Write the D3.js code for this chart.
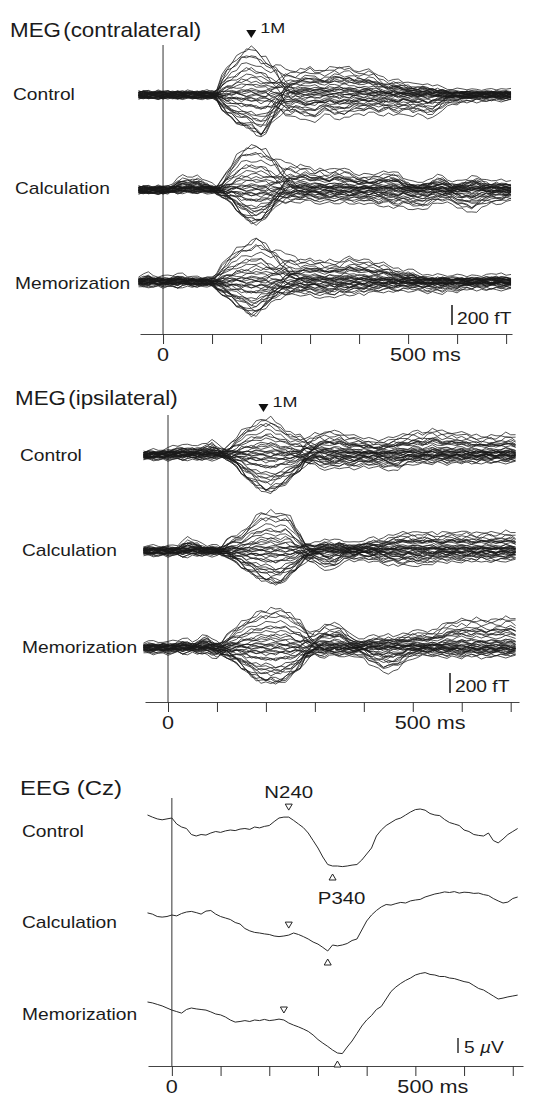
<!DOCTYPE html>
<html>
<head>
<meta charset="utf-8">
<script src="https://cdn.jsdelivr.net/npm/d3@7"></script>
<style>
  body { margin: 0; background: #fff; }
  svg text { font-family: "Liberation Sans", Arial, Helvetica, sans-serif; fill: #1b1b1b; }
</style>
</head>
<body>
<svg id="fig"></svg>
<script>

//// DATA ////

// sample grid of the averaged responses (ms)
var times = d3.range(-50, 711, 10);
// window of the 1M response (ms)
var peakTimes = d3.range(100, 391, 10);

var conditions = ["Control", "Calculation", "Memorization"];
var peak1M = [180, 195];            // latency of the 1M marker, contra / ipsi
var tickTimes = [0, 100, 200, 300, 400, 500, 600, 700];
var tickLabels = ["0", "", "", "", "", "500 ms", "", ""];

// MEG 1M envelope (fT), upward / downward extent, over peakTimes
var contraCtrlUp1M = [0,40,180,270,330,380,440,480,490,450, 410,370,320,270,200,120,50,0,0,0, 0,0,0,0,0,0,0,0,0,0];
var contraCtrlDn1M = [0,40,130,190,230,270,300,320,340,380, 420,370,280,200,120,60,20,0,0,0, 0,0,0,0,0,0,0,0,0,0];
var contraCalcUp1M = [0,20,80,170,250,340,400,440,450,440, 430,400,350,290,220,140,70,20,0,0, 0,0,0,0,0,0,0,0,0,0];
var contraCalcDn1M = [0,20,50,90,130,190,250,290,320,330, 310,270,210,130,70,30,10,0,0,0, 0,0,0,0,0,0,0,0,0,0];
var contraMemUp1M  = [30,80,160,220,280,330,360,390,410,440, 430,380,330,280,220,160,100,50,20,0, 0,0,0,0,0,0,0,0,0,0];
var contraMemDn1M  = [20,70,110,150,190,230,260,300,330,320, 280,240,190,140,110,80,50,30,10,0, 0,0,0,0,0,0,0,0,0,0];
var ipsiCtrlUp1M = [0,20,50,110,170,230,270,300,330,350, 370,370,330,290,250,220,200,180,150,120, 80,40,10,0,0,0,0,0,0,0];
var ipsiCtrlDn1M = [0,10,30,70,110,170,230,270,310,340, 370,370,340,310,280,240,190,140,80,40, 10,0,0,0,0,0,0,0,0,0];
var ipsiCalcUp1M = [0,30,90,130,150,170,220,290,350,380, 390,400,380,370,390,350,240,140,60,20, 0,0,0,0,0,0,0,0,0,0];
var ipsiCalcDn1M = [0,20,40,80,110,150,190,220,250,280, 300,310,330,320,280,240,200,140,80,40, 10,0,0,0,0,0,0,0,0,0];
var ipsiMemUp1M  = [20,60,110,160,210,250,280,320,350,370, 380,390,400,390,380,350,300,260,200,110, 40,0,0,0,0,0,0,0,0,0];
var ipsiMemDn1M  = [20,50,80,120,150,190,230,280,310,330, 340,340,350,340,320,290,240,190,110,60, 20,0,0,0,0,0,0,0,0,0];

// MEG envelope of the remaining activity (fT), over times
var contraCtrlUpRest = [0,0,0,0,0,
  0,0,0,0,0,0,0,0,0,0,
  0,0,0,0,0,0,0,0,0,0,
  0,0,30,80,130,180,210,230,240,250,
  270,250,230,240,260,270,280,270,260,240,
  240,230,240,220,180,150,130,140,130,120,
  100,80,90,90,80,70,60,50,40,30,
  30,30,30,20,30,30,20,30,30,20,
  30,30];
var contraCtrlDnRest = [0,0,0,0,0,
  0,0,0,0,0,0,0,0,0,0,
  0,0,0,0,0,0,0,0,0,0,
  0,0,30,70,120,170,200,190,200,220,
  250,240,190,170,180,200,220,210,180,160,
  170,160,150,160,170,170,160,170,180,170,
  160,180,170,180,200,210,160,110,90,70,
  60,50,50,40,40,40,30,30,30,30,
  30,30];
var contraCalcUpRest = [0,0,0,0,0,
  0,0,40,100,120,120,110,120,100,60,
  30,0,0,0,0,0,0,0,0,0,
  0,0,30,70,120,180,220,220,230,230,
  210,190,200,190,180,200,210,200,170,150,
  140,140,130,140,150,160,170,170,150,110,
  70,50,50,60,70,100,120,120,90,60,
  60,70,90,110,120,100,70,60,80,70,
  60,60];
var contraCalcDnRest = [0,0,0,0,0,
  0,0,0,0,0,0,0,0,0,0,
  0,0,0,0,0,0,0,0,0,0,
  0,0,30,60,90,100,100,100,90,80,
  90,100,100,110,100,100,110,100,100,110,
  110,100,110,120,130,130,140,150,150,140,
  150,160,170,170,150,120,100,90,100,120,
  140,170,190,200,180,150,120,110,120,100,
  90,90];
var contraMemUpRest = [30,50,60,40,30,
  30,30,40,60,50,30,30,20,20,10,
  0,0,0,0,0,0,0,0,0,0,
  0,20,50,90,130,170,200,210,200,210,
  220,210,200,190,200,190,200,220,230,220,
  220,210,200,180,170,170,160,120,110,100,
  100,90,70,50,40,40,40,40,40,40,
  40,40,30,30,40,40,40,50,60,50,
  40,40];
var contraMemDnRest = [20,30,20,20,20,
  20,20,30,30,20,20,20,20,20,10,
  0,0,0,0,0,0,0,0,0,0,
  0,20,40,60,80,90,100,100,100,110,
  110,120,120,130,130,120,110,110,100,100,
  90,90,80,80,70,70,70,70,70,60,
  60,60,60,70,80,80,80,80,70,70,
  70,60,50,50,50,50,50,50,50,50,
  50,50];
var ipsiCtrlUpRest = [0,10,20,20,30,
  40,60,70,80,70,80,70,80,110,130,
  80,50,20,0,0,0,0,0,0,0,
  0,0,0,0,0,0,0,0,60,100,
  160,200,210,230,220,220,200,180,170,170,
  160,150,130,130,140,150,170,180,190,210,
  220,220,210,230,250,240,220,210,220,220,
  210,200,190,180,170,180,180,170,190,200,
  190,180];
var ipsiCtrlDnRest = [20,20,20,20,20,
  20,20,20,20,20,20,20,20,20,20,
  10,0,0,0,0,0,0,0,0,0,
  0,0,0,0,0,0,0,0,30,60,
  80,100,110,120,110,100,100,110,110,100,
  90,90,100,100,110,120,130,120,90,70,
  60,60,60,60,60,50,50,60,60,50,
  50,50,60,60,50,50,50,50,50,50,
  50,50];
var ipsiCalcUpRest = [20,20,20,20,20,
  20,20,30,80,110,100,80,40,30,30,
  20,0,0,0,0,0,0,0,0,0,
  0,0,0,0,0,0,0,30,40,50,
  60,80,90,90,80,90,80,60,50,70,
  90,100,110,100,110,130,150,160,170,180,
  170,160,170,180,170,150,160,170,180,180,
  170,180,170,160,170,180,170,160,170,180,
  170,160];
var ipsiCalcDnRest = [20,20,20,20,20,
  20,20,20,30,30,20,20,20,20,20,
  10,0,0,0,0,0,0,0,0,0,
  0,0,0,0,0,0,0,0,40,80,
  110,130,150,170,160,110,80,70,70,60,
  70,70,80,90,100,110,110,120,120,120,
  110,120,120,110,100,90,80,80,80,90,
  80,80,80,80,70,80,80,80,80,70,
  70,70];
var ipsiMemUpRest = [30,40,30,30,40,
  30,40,50,70,60,40,60,100,120,60,
  30,0,0,0,0,0,0,0,0,0,
  0,0,0,0,0,0,0,0,40,80,
  140,190,220,230,230,220,190,130,80,70,
  80,90,100,100,100,110,100,110,120,140,
  150,150,160,150,160,180,210,240,260,270,
  280,270,280,290,280,270,270,280,290,300,
  290,280];
var ipsiMemDnRest = [20,30,30,20,30,
  30,30,20,30,30,20,30,30,40,60,
  70,30,0,0,0,0,0,0,0,0,
  0,0,0,0,0,0,0,0,40,50,
  50,60,60,50,50,50,60,60,50,60,
  80,120,160,190,210,220,210,180,140,100,
  70,60,50,50,50,60,60,60,60,70,
  70,60,60,60,70,70,60,60,60,60,
  60,60];

// per-channel loadings of the 1M and of the remaining activity
var earlyLoad = [1.0, 0.92, 0.83, 0.74, 0.65, 0.57, 0.49, 0.42, 0.35, 0.29, 0.23, 0.18, 0.13, 0.09, 0.05, 0.02,
  -0.01, -0.04, -0.07, -0.11, -0.15, -0.2, -0.26, -0.32, -0.39, -0.46, -0.53, -0.6, -0.67, -0.74, -0.8,
  -0.86, -0.91, -0.95, -0.98, -1.0];
var lateLoad = [0.3, -0.5, 1.0, -0.2, 0.7, 0.1, -0.9, 0.5, -0.1, 0.85, -0.35, 0.2, -0.7, 0.6, -0.05, 0.4,
  -1.0, 0.15, -0.6, 0.9, -0.25, 0.05, -0.8, 0.45, -0.45, 0.75, -0.15, 0.25, -0.3, 0.55, -0.75, 0.35,
  -0.4, 0.65, 0.0, -0.55];
// per-channel baseline offset and noise size (fT)
var channelOffset = [-30, 25, -10, 35, 5, -20, 15, -35, 30, 0, -15, 20, -25, 10, -5, 28, -28, 12, -12, 33,
  -8, 18, -22, 3, 24, -32, 8, -18, 14, -3, 27, -26, 6, -14, 21, -6];
var noiseGain = [14, 18, 12, 20, 16, 11, 19, 15, 13, 21, 17, 12, 18, 14, 20, 11, 16, 19, 13, 15, 22, 12,
  17, 14, 18, 11, 20, 15, 13, 19, 16, 12, 21, 14, 17, 15];
// background ripple shape of a sensor
var ripple = [0.3, -0.4, 0.8, 0.1, -0.7, 0.2, 0.9, -0.3, -0.8, 0.4, 0.6, -0.5, 0.0, 0.7, -0.6, -0.2, 0.5,
  -0.9, 0.3, 0.8, -0.1, -0.6, 0.4, -0.3, 0.9, 0.2, -0.8, -0.4, 0.6, 0.1, -0.5, 0.7, -0.2, -0.9, 0.5,
  0.3, -0.6, 0.8, -0.1, 0.4, -0.7];

// EEG at Cz (microvolt, negative up), over times
var eegControl = [-1.0, -0.3, 0.3, 0.6, 0.3,
  0.0, 2.0, 3.0, 3.5, 5.5, 6.0, 5.5, 5.7, 5.0, 4.5,
  4.8, 4.3, 4.0, 4.2, 3.7, 3.5, 3.8, 3.0, 3.3, 2.8,
  2.5, 1.2, 0.0, -0.3, -0.3, 0.8, 2.0, 3.2, 5.0, 7.5,
  10.0, 13.0, 15.5, 16.0, 16.0, 16.2, 16.0, 15.7, 15.5, 14.0,
  12.0, 10.0, 6.0, 4.0, 2.5, 1.5, 0.5, 0.0, -1.0, -2.0,
  -2.8, -3.0, -2.6, -1.5, -1.0, -0.8, 0.5, 1.5, 2.0, 2.5,
  4.0, 4.5, 5.5, 5.8, 6.0, 5.0, 7.5, 8.3, 7.0, 5.5,
  4.5, 3.5];
var eegCalc = [-0.7, -0.3, 0.5, 0.7, 0.5,
  0.0, 0.3, -0.5, -1.0, -1.2, -0.8, -0.3, -1.3, -1.5, -0.3,
  0.5, 1.0, 1.5, 2.5, 3.0, 4.5, 5.3, 5.8, 6.0, 6.3,
  6.5, 7.0, 7.2, 7.0, 6.7, 6.0, 6.5, 7.2, 8.0, 9.0,
  9.7, 10.8, 12.0, 10.0, 10.3, 10.0, 9.5, 8.5, 8.0, 5.0,
  2.0, 0.0, -1.5, -2.7, -3.5, -3.3, -3.8, -4.2, -4.0, -4.7,
  -5.0, -5.2, -6.0, -6.5, -7.0, -7.3, -7.7, -7.5, -7.8, -7.3,
  -7.6, -7.5, -7.2, -7.3, -6.8, -6.5, -5.5, -4.7, -4.0, -4.3,
  -5.5, -6.0];
var eegMem = [-1.0, -0.7, -0.2, 0.3, 1.0,
  1.7, 2.2, 2.7, 1.5, 1.0, 1.3, 1.5, 1.7, 2.3, 3.0,
  3.3, 4.0, 5.0, 5.7, 5.5, 5.2, 5.5, 5.0, 5.2, 4.8,
  5.2, 5.0, 4.7, 5.0, 6.0, 6.7, 7.3, 8.0, 8.8, 10.0,
  11.5, 12.7, 13.8, 15.0, 16.0, 16.2, 14.0, 12.0, 9.5, 7.0,
  5.0, 3.5, 1.5, 0.5, -2.0, -4.5, -6.0, -7.2, -8.2, -9.0,
  -10.0, -10.5, -10.8, -10.2, -10.0, -9.5, -9.5, -9.0, -8.8, -8.3,
  -7.8, -7.5, -6.5, -5.5, -5.0, -4.0, -3.0, -2.0, -2.3, -2.7,
  -3.0, -3.3];
var n240Times = [240, 240, 230];
var p340Times = [330, 320, 340];


//// LAYOUT ////

var width = 544, height = 1100;
var stretch = 1.2;   // the printed lettering is wide

var svg = d3.select("#fig")
  .attr("width", width)
  .attr("height", height);

svg.append("rect")
  .attr("width", width)
  .attr("height", height)
  .attr("fill", "#fff");

function label(x, y, str, size, anchor, sx) {
  return svg.append("text")
    .attr("transform", "translate(" + x + "," + y + ") scale(" + (sx || stretch) + ",1)")
    .attr("font-size", size)
    .attr("text-anchor", anchor || "start")
    .text(str);
}

var panels = [
  { title: ["MEG", "(contralateral)"], tx: 10, ty: 37, dom: [-47, 712], rng: [140, 512], axisY: 334, top: 45,
    bases: [95, 190, 282], lx: [13, 15, 15], ly: [100, 194, 289], bar: [452, 325], unit: "200 fT", markY: 34,
    rows: [[contraCtrlUp1M, contraCtrlDn1M, contraCtrlUpRest, contraCtrlDnRest],
           [contraCalcUp1M, contraCalcDn1M, contraCalcUpRest, contraCalcDnRest],
           [contraMemUp1M, contraMemDn1M, contraMemUpRest, contraMemDnRest]] },
  { title: ["MEG", "(ipsilateral)"], tx: 15, ty: 405, dom: [-47, 717], rng: [145, 519], axisY: 702, top: 415,
    bases: [455, 551, 648], lx: [20, 22, 22], ly: [461, 556, 653], bar: [450, 693], unit: "200 fT", markY: 408,
    rows: [[ipsiCtrlUp1M, ipsiCtrlDn1M, ipsiCtrlUpRest, ipsiCtrlDnRest],
           [ipsiCalcUp1M, ipsiCalcDn1M, ipsiCalcUpRest, ipsiCalcDnRest],
           [ipsiMemUp1M, ipsiMemDn1M, ipsiMemUpRest, ipsiMemDnRest]] },
  { title: ["EEG", "(Cz)"], tx: 20, ty: 795, dom: [-49, 721], rng: [148, 523], axisY: 1066, top: 798,
    bases: [818, 915, 1005], lx: [22, 22, 22], ly: [837, 928, 1020], bar: [458, 1053],
    eeg: [eegControl, eegCalc, eegMem] }
];

function loadOf(w, up, dn) { return w >= 0 ? w * up : w * dn; }

function channelTrace(row, k) {
  return times.map(function(t, i) {
    var j = peakTimes.indexOf(t);
    var sig = (j >= 0 ? loadOf(earlyLoad[k], row[0][j], row[1][j]) : 0) +
              loadOf(lateLoad[k], row[2][i], row[3][i]);
    var r = ripple[(i + 11 * k) % ripple.length];
    return sig + channelOffset[k] + r * (noiseGain[k] + 0.03 * Math.abs(sig));
  });
}

panels.forEach(function(p, pi) {
  var x = d3.scaleLinear().domain(p.dom).range(p.rng);

  // title
  var tt = svg.append("text")
    .attr("transform", "translate(" + p.tx + "," + p.ty + ") scale(" + (pi == 2 ? 1.2 : 1.12) + ",1)")
    .attr("font-size", 20);
  tt.append("tspan").text(p.title[0]);
  tt.append("tspan").attr("dx", pi == 2 ? 5 : 2).text(p.title[1]);

  // stimulus onset line
  svg.append("line")
    .attr("x1", x(0)).attr("x2", x(0))
    .attr("y1", p.top).attr("y2", p.axisY)
    .attr("stroke", "#333").attr("stroke-width", 1);

  // time axis
  var axis = d3.axisBottom(x)
    .tickValues(tickTimes)
    .tickSize(10)
    .tickSizeOuter(0)
    .tickFormat("");
  var ga = svg.append("g")
    .attr("transform", "translate(0," + p.axisY + ")")
    .call(axis);
  ga.select(".domain").attr("stroke", "#444").attr("stroke-width", 1.2);
  ga.selectAll(".tick line").attr("stroke", "#333").attr("stroke-width", 1);

  tickTimes.forEach(function(t, i) {
    if (!tickLabels[i]) return;
    if (t == 0) label(x(t), p.axisY + 27, tickLabels[i], 18, "middle");
    else label(x(t) - 18, p.axisY + 27, tickLabels[i], 18);
  });

  conditions.forEach(function(c, ci) {
    label(p.lx[ci], p.ly[ci], c, 16);
  });

  if (p.rows) {
    // butterfly plots
    p.rows.forEach(function(row, ri) {
      var y = d3.scaleLinear().domain([-600, 600]).range([p.bases[ri] + 60, p.bases[ri] - 60]);
      var line = d3.line()
        .x(function(d, i) { return x(times[i]); })
        .y(function(d) { return y(d); });
      var traces = earlyLoad.map(function(a, k) { return channelTrace(row, k); });
      svg.append("g").selectAll("path")
        .data(traces)
        .enter().append("path")
          .attr("d", line)
          .attr("fill", "none")
          .attr("stroke", "#1a1a1a")
          .attr("stroke-width", 0.75);

      if (ri == 2) {
        // scale bar 200 fT
        svg.append("line")
          .attr("x1", p.bar[0]).attr("x2", p.bar[0])
          .attr("y1", p.bar[1]).attr("y2", p.bar[1] - (y(0) - y(200)))
          .attr("stroke", "#222").attr("stroke-width", 1.6);
        label(p.bar[0] + 5, p.bar[1] - 1, p.unit, 16);
      }
    });

    // 1M marker
    var mx = x(peak1M[pi]);
    svg.append("path")
      .attr("d", "M" + (mx - 5) + "," + (p.markY - 4) + "L" + (mx + 5) + "," + (p.markY - 4) + "L" + mx + "," + (p.markY + 4) + "Z")
      .attr("fill", "#111");
    label(mx + 9, p.markY - 1, "1M", 15);
  } else {
    // EEG traces
    p.eeg.forEach(function(vals, ri) {
      var y = d3.scaleLinear().domain([0, 5]).range([p.bases[ri], p.bases[ri] + 15]);
      var line = d3.line()
        .x(function(d, i) { return x(times[i]); })
        .y(function(d) { return y(d); });
      svg.append("path")
        .datum(vals)
        .attr("d", line)
        .attr("fill", "none")
        .attr("stroke", "#2a2a2a")
        .attr("stroke-width", 1);

      var nx = x(n240Times[ri]), ny = y(vals[times.indexOf(n240Times[ri])]) - 10;
      svg.append("path")
        .attr("d", "M" + (nx - 3.5) + "," + (ny - 3) + "L" + (nx + 3.5) + "," + (ny - 3) + "L" + nx + "," + (ny + 3) + "Z")
        .attr("fill", "#fff").attr("stroke", "#222").attr("stroke-width", 1);
      var px = x(p340Times[ri]), py = y(vals[times.indexOf(p340Times[ri])]) + 11;
      svg.append("path")
        .attr("d", "M" + (px - 3.5) + "," + (py + 3) + "L" + (px + 3.5) + "," + (py + 3) + "L" + px + "," + (py - 3) + "Z")
        .attr("fill", "#fff").attr("stroke", "#222").attr("stroke-width", 1);

      if (ri == 0) {
        label(nx, ny - 9, "N240", 17, "middle");
        label(px + 9, py + 27, "P340", 17, "middle");
      }
      if (ri == 2) {
        svg.append("line")
          .attr("x1", p.bar[0]).attr("x2", p.bar[0])
          .attr("y1", p.bar[1]).attr("y2", p.bar[1] - (y(5) - y(0)))
          .attr("stroke", "#222").attr("stroke-width", 1.4);
        var ut = label(p.bar[0] + 6, p.bar[1], "", 16);
        ut.append("tspan").text("5 ");
        ut.append("tspan").attr("font-style", "italic").text("\u00b5");
        ut.append("tspan").text("V");
      }
    });
  }
});

</script>
</body>
</html>
